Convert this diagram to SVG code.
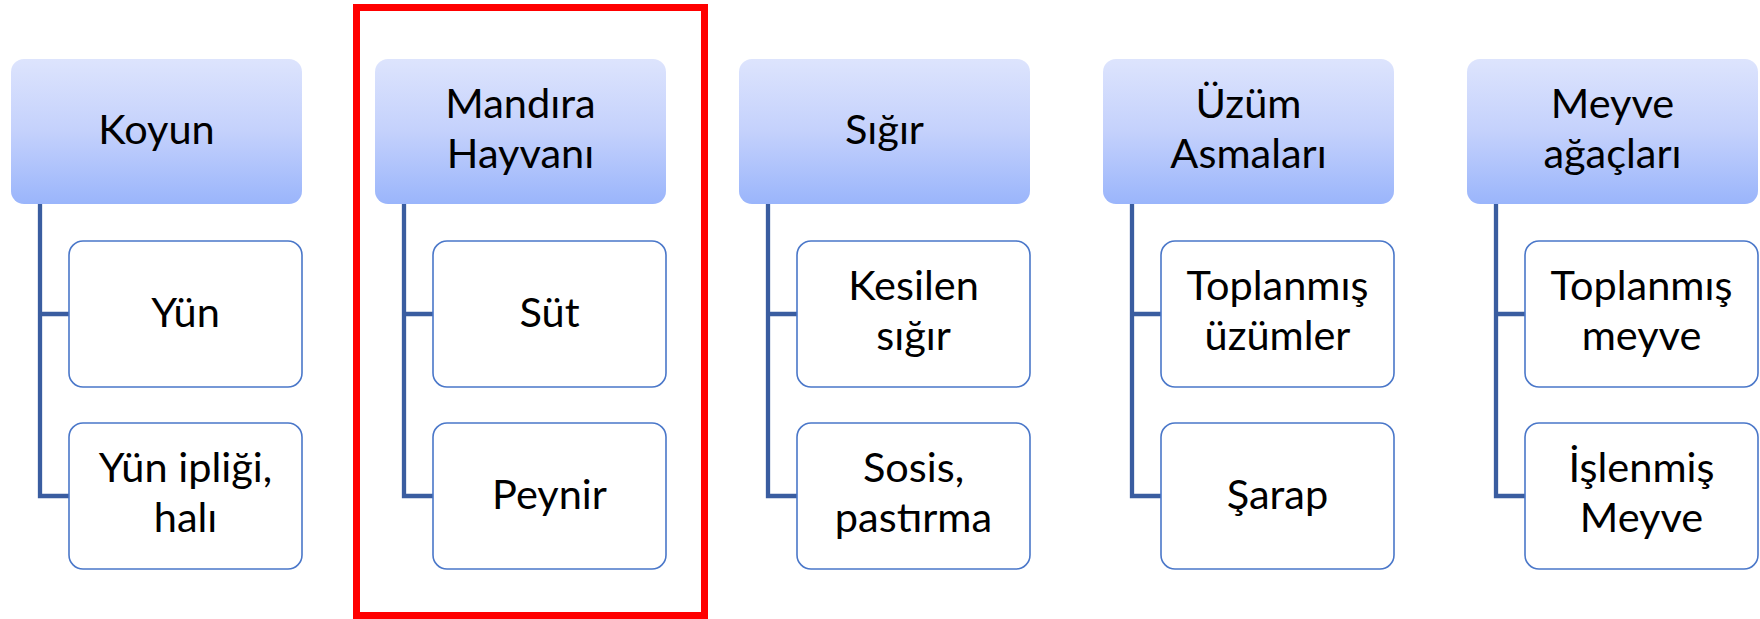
<svg xmlns="http://www.w3.org/2000/svg" width="1760" height="619" viewBox="0 0 1760 619">
  <defs>
    <linearGradient id="hg" x1="0" y1="0" x2="0" y2="1">
      <stop offset="0" stop-color="#dde4fd"/>
      <stop offset="0.5" stop-color="#c4d1fc"/>
      <stop offset="1" stop-color="#9ab5fb"/>
    </linearGradient>
    <style>
      .hdr { fill: url(#hg); }
      .child { fill: #ffffff; stroke: #4a77c9; stroke-width: 1.6; }
      .conn { fill: none; stroke: #3a5da0; stroke-width: 4.3; stroke-linejoin: miter; }
      text { font-family: Lato, "Open Sans", sans-serif; font-size: 41.5px; fill: #000; text-anchor: middle; }
      .hl { fill: none; stroke: #ff0000; stroke-width: 7; }
    </style>
  </defs>
  <rect width="1760" height="619" fill="#ffffff"/>

  <g id="connectors">
    <path class="conn" d="M40,204 V496 H69 M40,314 H69"/>
    <path class="conn" d="M404,204 V496 H433 M404,314 H433"/>
    <path class="conn" d="M768,204 V496 H797 M768,314 H797"/>
    <path class="conn" d="M1132,204 V496 H1161 M1132,314 H1161"/>
    <path class="conn" d="M1496,204 V496 H1525 M1496,314 H1525"/>
  </g>

  <g id="koyun">
    <rect class="hdr" x="11" y="59" width="291" height="145" rx="13"/>
    <text x="156.5" y="144">Koyun</text>
  </g>
  <g id="yun">
    <rect class="child" x="69" y="241" width="233" height="146" rx="14"/>
    <text x="185.5" y="327">Yün</text>
  </g>
  <g id="yun-ipligi">
    <rect class="child" x="69" y="423" width="233" height="146" rx="14"/>
    <text x="185.5" y="482">Yün ipliği,</text>
    <text x="185.5" y="532">halı</text>
  </g>

  <g id="mandira">
    <rect class="hdr" x="375" y="59" width="291" height="145" rx="13"/>
    <text x="520.5" y="118">Mandıra</text>
    <text x="520.5" y="168">Hayvanı</text>
  </g>
  <g id="sut">
    <rect class="child" x="433" y="241" width="233" height="146" rx="14"/>
    <text x="549.5" y="327">Süt</text>
  </g>
  <g id="peynir">
    <rect class="child" x="433" y="423" width="233" height="146" rx="14"/>
    <text x="549.5" y="509">Peynir</text>
  </g>

  <g id="sigir">
    <rect class="hdr" x="739" y="59" width="291" height="145" rx="13"/>
    <text x="884.5" y="144">Sığır</text>
  </g>
  <g id="kesilen">
    <rect class="child" x="797" y="241" width="233" height="146" rx="14"/>
    <text x="913.5" y="300">Kesilen</text>
    <text x="913.5" y="350">sığır</text>
  </g>
  <g id="sosis">
    <rect class="child" x="797" y="423" width="233" height="146" rx="14"/>
    <text x="913.5" y="482">Sosis,</text>
    <text x="913.5" y="532">pastırma</text>
  </g>

  <g id="uzum">
    <rect class="hdr" x="1103" y="59" width="291" height="145" rx="13"/>
    <text x="1248.5" y="118">Üzüm</text>
    <text x="1248.5" y="168">Asmaları</text>
  </g>
  <g id="toplanmis-uzum">
    <rect class="child" x="1161" y="241" width="233" height="146" rx="14"/>
    <text x="1277.5" y="300">Toplanmış</text>
    <text x="1277.5" y="350">üzümler</text>
  </g>
  <g id="sarap">
    <rect class="child" x="1161" y="423" width="233" height="146" rx="14"/>
    <text x="1277.5" y="509">Şarap</text>
  </g>

  <g id="meyve">
    <rect class="hdr" x="1467" y="59" width="291" height="145" rx="13"/>
    <text x="1612.5" y="118">Meyve</text>
    <text x="1612.5" y="168">ağaçları</text>
  </g>
  <g id="toplanmis-meyve">
    <rect class="child" x="1525" y="241" width="233" height="146" rx="14"/>
    <text x="1641.5" y="300">Toplanmış</text>
    <text x="1641.5" y="350">meyve</text>
  </g>
  <g id="islenmis">
    <rect class="child" x="1525" y="423" width="233" height="146" rx="14"/>
    <text x="1641.5" y="482">İşlenmiş</text>
    <text x="1641.5" y="532">Meyve</text>
  </g>

  <g id="highlight">
    <rect class="hl" x="356.5" y="7.5" width="348" height="608"/>
  </g>
</svg>
